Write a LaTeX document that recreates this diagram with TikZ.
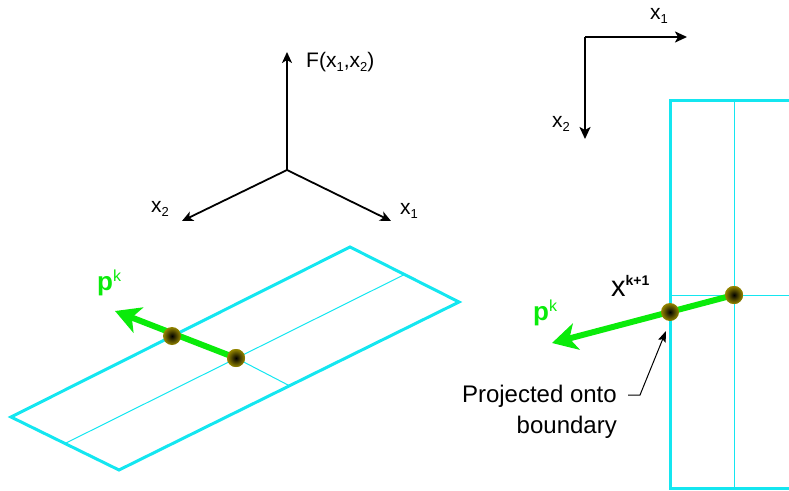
\documentclass[tikz,border=0pt]{standalone}
\usepackage{fontspec}
\setmainfont{Liberation Sans}
\usetikzlibrary{arrows.meta}
\definecolor{cy}{RGB}{20,230,240}
\definecolor{gr}{RGB}{10,235,10}
\definecolor{ol}{RGB}{150,135,0}
\newcommand\lowr[1]{\raisebox{-4pt}{\fontsize{13}{13}\selectfont #1}}
\begin{document}
\begin{tikzpicture}[x=1pt,y=-1pt,
  axis/.style={black,line width=1.8pt,-{Stealth[length=11pt,width=10pt,inset=3pt]}},
  axisb/.style={black,line width=2.6pt,-{Stealth[length=12pt,width=11pt,inset=3pt]}},
  edge/.style={cy,line width=3pt,line join=miter},
  thin/.style={cy,line width=1pt},
  garrow/.style={gr,line width=6pt,-{Stealth[length=25pt,width=27pt,inset=7pt]}},
  dot/.style={circle,minimum size=18pt,inner sep=0pt,shading=radial,inner color=black,outer color=ol},
  lbl/.style={inner sep=0pt,anchor=base west,font=\fontsize{21}{21}\selectfont},
  glbl/.style={inner sep=0pt,anchor=base west,text=gr},
  callout/.style={black,line width=1pt,-{Stealth[length=11pt,width=8pt,inset=2pt]}}]
\useasboundingbox (0,0) rectangle (789,490);
\clip (0,0) rectangle (789,490);

% ---------- left 3D axes ----------
\coordinate (o) at (287,170);
\coordinate (fz) at (287,52);
\coordinate (fx1) at (391,221);
\coordinate (fx2) at (182,221);
\draw[axis] (o) -- (fz);
\draw[axis] (o) -- (fx1);
\draw[axis] (o) -- (fx2);
\node[lbl] (lF) at (306,67) {F(x\lowr{1},x\lowr{2})};
\node[lbl] (lx1) at (400,214) {x\lowr{1}};
\node[lbl] (lx2) at (151,212) {x\lowr{2}};

% ---------- left parallelogram ----------
\coordinate (pa) at (11,417);
\coordinate (pb) at (350,247);
\coordinate (pc) at (459,302);
\coordinate (pd) at (119,470);
\coordinate (ma) at (65,443.5);
\coordinate (mb) at (404.5,274.5);
\coordinate (cr) at (289,385.5);
\draw[edge] (pa) -- (pb) -- (pc) -- (pd) -- cycle;
\draw[thin] (ma) -- (mb);
\node[dot] (d2) at (236,358) {};
\draw[thin] (d2.center) -- (cr);
\coordinate (tipL) at (115,311);
\draw[garrow] (d2.center) -- (tipL);
\node[dot] (d1) at (172,336) {};
\node[dot] at (236,358) {};
\node[glbl] (pkL) at (97,290) {\fontsize{26}{26}\selectfont\bfseries p\raisebox{9pt}{\fontsize{16}{16}\selectfont\mdseries k}};

% ---------- right 2D axes ----------
\coordinate (ro) at (585,37);
\coordinate (rx1) at (687,37);
\coordinate (rx2) at (585,139);
\draw[axisb] (ro) -- (rx1);
\draw[axisb] (ro) -- (rx2);
\node[lbl] (rlx1) at (650,19) {x\lowr{1}};
\node[lbl] (rlx2) at (552,127) {x\lowr{2}};

% ---------- right rectangle ----------
\coordinate (ra) at (800,100);
\coordinate (rb) at (670,100);
\coordinate (rc) at (670,488);
\coordinate (rd) at (800,488);
\draw[edge] (ra) -- (rb) -- (rc) -- (rd);
\coordinate (va) at (734,100);
\coordinate (vb) at (734,488);
\coordinate (ha) at (670,295);
\coordinate (hb) at (800,295);
\draw[thin] (va) -- (vb);
\draw[thin] (ha) -- (hb);
\node[dot] (e2) at (734,295) {};
\coordinate (tipR) at (552,343);
\draw[garrow] (e2.center) -- (tipR);
\node[dot] (e1) at (670,312) {};
\node[dot] at (734,295) {};
\node[glbl] (pkR) at (533,320) {\fontsize{26}{26}\selectfont\bfseries p\raisebox{9pt}{\fontsize{16}{16}\selectfont\mdseries k}};
\node[inner sep=0pt,anchor=base west] (xk) at (611,296) {\fontsize{29}{29}\selectfont x\raisebox{11pt}{\fontsize{14}{14}\selectfont\bfseries k+1}};

% ---------- callout ----------
\node[inner sep=0pt,anchor=base east,align=right,font=\fontsize{24}{31}\selectfont] (txt) at (617,433) {Projected onto\\boundary};
\coordinate (c0) at (628,395);
\coordinate (c1) at (640,395);
\coordinate (c2) at (666,331);
\draw[callout] (c0) -- (c1) -- (c2);
\end{tikzpicture}
\end{document}
